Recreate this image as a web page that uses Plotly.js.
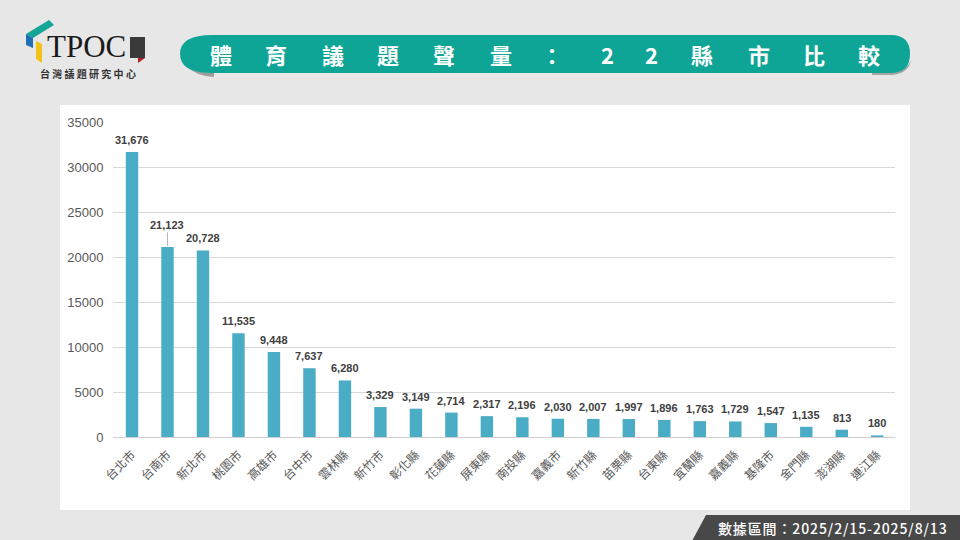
<!DOCTYPE html>
<html><head><meta charset="utf-8">
<script src="https://cdn.plot.ly/plotly-3.0.1.min.js"></script>
<style>html,body{margin:0;padding:0;background:#e7e7e7;}#chart{width:960px;height:540px;}</style>
</head><body><div id="chart"></div>
<script>
const categories = ['台北市','台南市','新北市','桃園市','高雄市','台中市','雲林縣','新竹市','彰化縣','花蓮縣','屏東縣','南投縣','嘉義市','新竹縣','苗栗縣','台東縣','宜蘭縣','嘉義縣','基隆市','金門縣','澎湖縣','連江縣'];
const volumes = [31676,21123,20728,11535,9448,7637,6280,3329,3149,2714,2317,2196,2030,2007,1997,1896,1763,1729,1547,1135,813,180];
const yTicks = [0,5000,10000,15000,20000,25000,30000,35000];
const titleChars = ['體','育','議','題','聲','量','：','2','2','縣','市','比','較'];
const dateText = '數據區間：2025/2/15-2025/8/13';

const L = 113, R = 895, T = 122, B = 437;
const W = 960, H = 540;
const px = x => (x - L) / (R - L);
const py = y => (B - y) / (B - T);
const font = '"Noto Sans CJK TC", "Noto Sans", sans-serif';

const shapes = [
  {type:'rect', xref:'paper', yref:'paper', x0:px(60), x1:px(910), y0:py(105), y1:py(510), fillcolor:'#ffffff', line:{width:0}, layer:'below'},
  {type:'path', xref:'paper', yref:'paper', layer:'below', fillcolor:'#9c9c9c', line:{width:0},
   path:`M ${px(186)} ${py(66)} Q ${px(196)} ${py(76)} ${px(214)} ${py(77)} L ${px(214)} ${py(73)} Q ${px(194)} ${py(73)} ${px(186)} ${py(66)} Z`},
  {type:'path', xref:'paper', yref:'paper', layer:'below', fillcolor:'#a5a5a5', line:{width:0},
   path:`M ${px(872)} ${py(73)} L ${px(872)} ${py(75)} L ${px(893)} ${py(75)} Q ${px(909)} ${py(73)} ${px(911)} ${py(60)} Q ${px(906)} ${py(72)} ${px(891)} ${py(73)} Z`},
  {type:'path', xref:'paper', yref:'paper', layer:'below', fillcolor:'#0ea596', line:{width:0},
   path:`M ${px(212)} ${py(35)} L ${px(891)} ${py(35)} Q ${px(910)} ${py(35)} ${px(910)} ${py(54)} Q ${px(910)} ${py(73)} ${px(891)} ${py(73)} L ${px(212)} ${py(73)} Q ${px(180)} ${py(73)} ${px(180)} ${py(54)} Q ${px(180)} ${py(35)} ${px(212)} ${py(35)} Z`},
  {type:'path', xref:'paper', yref:'paper', layer:'below', fillcolor:'#484848', line:{width:0},
   path:`M ${px(692)} ${py(541)} L ${px(706)} ${py(515)} L ${px(961)} ${py(515)} L ${px(961)} ${py(541)} Z`},
  {type:'path', xref:'paper', yref:'paper', fillcolor:'#15a596', line:{width:0},
   path:`M ${px(26)} ${py(34)} L ${px(49)} ${py(20)} L ${px(54)} ${py(25)} L ${px(33)} ${py(38)} Z`},
  {type:'path', xref:'paper', yref:'paper', fillcolor:'#1f6fb5', line:{width:0},
   path:`M ${px(26)} ${py(34)} L ${px(33)} ${py(38)} L ${px(33)} ${py(48)} L ${px(26)} ${py(45)} Z`},
  {type:'path', xref:'paper', yref:'paper', fillcolor:'#f2c21b', line:{width:0},
   path:`M ${px(36)} ${py(41)} L ${px(42)} ${py(44)} L ${px(42)} ${py(63)} L ${px(36)} ${py(59)} Z`},
  {type:'rect', xref:'paper', yref:'paper', fillcolor:'#3a3a3a', line:{width:0},
   x0:px(130), x1:px(145), y0:py(37), y1:py(58)},
  {type:'path', xref:'paper', yref:'paper', fillcolor:'#b3202a', line:{width:0},
   path:`M ${px(138)} ${py(58)} L ${px(145)} ${py(58)} L ${px(138)} ${py(63)} Z`}
];

const annotations = [
  {xref:'paper', yref:'paper', x:px(86), y:py(47), text:'TPOC', showarrow:false,
   font:{family:'"Liberation Serif", "DejaVu Serif", serif', size:31, color:'#1a1a1a'}, xanchor:'center', yanchor:'middle'},
  {xref:'paper', yref:'paper', x:px(88), y:py(73), text:'台 灣 議 題 研 究 中 心', showarrow:false,
   font:{family:font, size:10, color:'#333333', weight:'bold'}, xanchor:'center', yanchor:'middle'},
  {xref:'paper', yref:'paper', x:px(832), y:py(528), text:dateText.split('').join('\u200A'), showarrow:false,
   font:{family:font, size:14, color:'#ffffff', weight:500}, xanchor:'center', yanchor:'middle'}
];
const titleX = [221,276,333,388,444,501,552,607,651,702,759,814,869];
titleChars.forEach((c,i)=>{
  annotations.push({xref:'paper', yref:'paper', x:px(titleX[i]), y:py(54), text:c, showarrow:false,
    font:{family:font, size:22, color:'#ffffff', weight:'bold'}, xanchor:'center', yanchor:'middle'});
});

// data labels above bars
const labelFont = {family:'"Liberation Sans", Arial, sans-serif', size:11, color:'#404040', weight:'bold'};
categories.forEach((c,i)=>{
  if (i === 1) {
    annotations.push({xref:'x', yref:'y', x:c, y:volumes[i], text:volumes[i].toLocaleString('en-US'),
      showarrow:true, arrowhead:0, arrowwidth:0.8, arrowcolor:'#a6a6a6', ax:0, ay:-22, standoff:1,
      font:labelFont});
  } else {
    annotations.push({xref:'x', yref:'y', x:c, y:volumes[i], text:volumes[i].toLocaleString('en-US'),
      showarrow:false, yanchor:'bottom', yshift:4, font:labelFont});
  }
});

const trace = {
  type:'bar', x:categories, y:volumes,
  marker:{color:'#4bacc6'},
  hoverinfo:'none'
};

const layout = {
  width:W, height:H,
  margin:{l:L, r:W-R, t:T, b:H-B, pad:0},
  paper_bgcolor:'#e7e7e7', plot_bgcolor:'rgba(0,0,0,0)',
  showlegend:false, bargap:0.65,
  xaxis:{type:'category', tickangle:-45, tickfont:{family:font, size:12, color:'#595959'},
    showgrid:false, ticks:'outside', ticklen:5, tickcolor:'rgba(0,0,0,0)', showline:false, automargin:false},
  yaxis:{range:[0,35000], tickvals:yTicks, ticktext:yTicks.map(String), showgrid:true, gridcolor:'#d9d9d9',
    zeroline:true, zerolinecolor:'#d0d0d0', zerolinewidth:1, ticks:'outside', ticklen:6, tickcolor:'rgba(0,0,0,0)',
    tickfont:{family:'"Liberation Sans", Arial, sans-serif', size:13, color:'#595959'}, automargin:false},
  shapes:shapes, annotations:annotations
};
Plotly.newPlot('chart',[trace],layout,{displayModeBar:false, staticPlot:true});
</script></body></html>
